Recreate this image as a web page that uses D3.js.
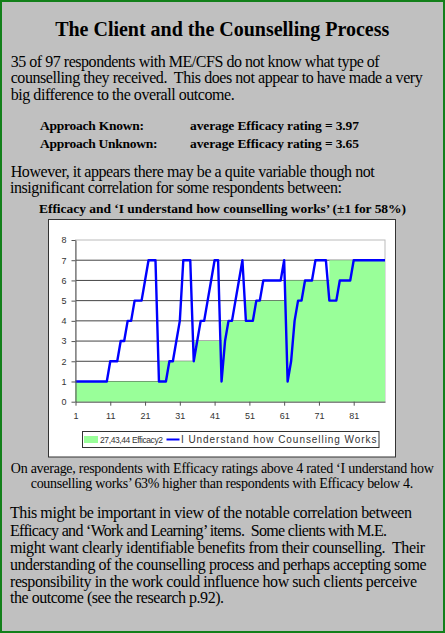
<!DOCTYPE html>
<html>
<head>
<meta charset="utf-8">
<script src="https://cdn.jsdelivr.net/npm/d3@7"></script>
<style>
  html, body { margin: 0; padding: 0; background: #c0c0c0; }
  svg { display: block; }
  .serif { font-family: "Liberation Serif", "Times New Roman", serif; fill: #000; white-space: pre; }
  .axis text { font-family: "Liberation Sans", Arial, sans-serif; font-size: 9px; fill: #333; }
  .axis path, .axis line { stroke: #555; }
</style>
</head>
<body>
<div id="vis"></div>
<script>

const FRAME_WIDTH = 445;
const FRAME_HEIGHT = 633;

// respondents sorted by efficacy, then by 'I understand' score
const efficacy = [
  1,1,1,1,1,1,1,1,1,1, 1,1,1,1,1,1,1,1,1,1, 1,1,1,1,
  2,2,2,2,2,2,2,2,2,2,
  3,3,3,3,3,3,3,3,
  4,4,4,4,4,4,4,
  5,5,5,5,5,5,5,5,5,5,5,
  6,6,6,6,6,6,6,6,6,6,6,6,6,
  7,7,7,7,7,7,7,7,7,7,7,7,7,7,7,7,7
];
const understand = [
  1,1,1,1,1,1,1,1,1,1, 2,2,2, 3,3, 4,4, 5,5,5, 6, 7,7,7,
  1,1,1, 2,2, 3, 4, 7,7,7,
  2, 3, 4,4, 5, 6, 7,7,
  1, 3, 4,4, 5, 6, 7,
  4,4,4, 5,5, 6,6,6,6,6,6,
  7, 1, 2, 4, 5,5, 6,6,6, 7,7,7,7,
  5,5,5, 6,6,6,6, 7,7,7,7,7,7,7,7,7,7
];
const xTicks = [1, 11, 21, 31, 41, 51, 61, 71, 81];
const yTicks = [0, 1, 2, 3, 4, 5, 6, 7, 8];
const seriesNames = ["27,43,44 Efficacy2", "I Understand how Counselling Works"];

const respondent = efficacy.map((d, i) => i + 1);

const svg = d3.select("#vis")
  .append("svg")
    .attr("width", FRAME_WIDTH)
    .attr("height", FRAME_HEIGHT);

// page frame
svg.append("rect")
  .attr("x", 1).attr("y", 1)
  .attr("width", FRAME_WIDTH - 2).attr("height", FRAME_HEIGHT - 2)
  .attr("fill", "#c0c0c0")
  .attr("stroke", "#13801a")
  .attr("stroke-width", 2);

// text lines: [text, x, baseline, size, weight, anchor, width]
const texts = [
  ["The Client and the Counselling Process", 222.2, 35.5, 20, "bold", "middle", 334],
  ["35 of 97 respondents with ME/CFS do not know what type of", 10.7, 66.5, 16, "normal", "start", 369],
  ["counselling they received.  This does not appear to have made a very", 10.7, 83.2, 16, "normal", "start", 412],
  ["big difference to the overall outcome.", 10.7, 100, 16, "normal", "start", 224],
  ["Approach Known:", 40, 130, 13.5, "bold", "start", 104],
  ["average Efficacy rating = 3.97", 190, 130, 13.5, "bold", "start", 169],
  ["Approach Unknown:", 40, 147.5, 13.5, "bold", "start", 117.5],
  ["average Efficacy rating = 3.65", 190, 147.5, 13.5, "bold", "start", 169],
  ["However, it appears there may be a quite variable though not", 10.7, 176.5, 16, "normal", "start", 364],
  ["insignificant correlation for some respondents between:", 10, 193.2, 16, "normal", "start", 332],
  ["Efficacy and \u2018I understand how counselling works\u2019 (\u00b11 for 58%)", 222.5, 212.5, 13.5, "bold", "middle", 367],
  ["On average, respondents with Efficacy ratings above 4 rated \u2018I understand how", 222.3, 472.5, 14, "normal", "middle", 423],
  ["counselling works\u2019 63% higher than respondents with Efficacy below 4.", 222, 487.6, 14, "normal", "middle", 382.5],
  ["This might be important in view of the notable correlation between", 10, 518.3, 16, "normal", "start", 402],
  ["Efficacy and \u2018Work and Learning\u2019 items.  Some clients with M.E.", 10, 535.5, 16, "normal", "start", 377],
  ["might want clearly identifiable benefits from their counselling.  Their", 10, 552.5, 16, "normal", "start", 415],
  ["understanding of the counselling process and perhaps accepting some", 10, 569.7, 16, "normal", "start", 416.5],
  ["responsibility in the work could influence how such clients perceive", 10, 586.7, 16, "normal", "start", 407],
  ["the outcome (see the research p.92).", 10, 603.3, 16, "normal", "start", 214]
];

svg.selectAll(".line-text")
  .data(texts)
  .enter()
  .append("text")
    .attr("class", "serif")
    .attr("x", d => d[1])
    .attr("y", d => d[2])
    .attr("font-size", d => d[3] + "px")
    .attr("font-weight", d => d[4])
    .attr("text-anchor", d => d[5])
    .attr("textLength", d => d[6])
    .attr("lengthAdjust", "spacing")
    .text(d => d[0]);

// chart box
svg.append("rect")
  .attr("x", 48.5).attr("y", 219.5)
  .attr("width", 347).attr("height", 237.5)
  .attr("fill", "#fff")
  .attr("stroke", "#333");

const X_SCALE = d3.scaleLinear()
  .domain([1, respondent.length])
  .range([75.5, 385]);

const Y_SCALE = d3.scaleLinear()
  .domain([0, 8])
  .range([401.7, 240]);

// gridlines
svg.append("g")
  .selectAll("line")
  .data(yTicks.filter(d => d > 0 && d < 8))
  .enter()
  .append("line")
    .attr("x1", X_SCALE(1)).attr("x2", X_SCALE(respondent.length))
    .attr("y1", d => Y_SCALE(d)).attr("y2", d => Y_SCALE(d))
    .attr("stroke", "#444")
    .attr("stroke-width", 1);

// plot border (light grey)
svg.append("rect")
  .attr("x", X_SCALE(1)).attr("y", Y_SCALE(8))
  .attr("width", X_SCALE(respondent.length) - X_SCALE(1))
  .attr("height", Y_SCALE(0) - Y_SCALE(8))
  .attr("fill", "none")
  .attr("stroke", "#bbb");

// efficacy area
const area = d3.area()
  .x((d, i) => X_SCALE(respondent[i]))
  .y0(Y_SCALE(0))
  .y1(d => Y_SCALE(d))
  .curve(d3.curveStepAfter);

svg.append("path")
  .datum(efficacy)
  .attr("d", area)
  .attr("fill", "#99ff99");

// understand line
const line = d3.line()
  .x((d, i) => X_SCALE(respondent[i]))
  .y(d => Y_SCALE(d));

svg.append("path")
  .datum(understand)
  .attr("d", line)
  .attr("fill", "none")
  .attr("stroke", "#0000ff")
  .attr("stroke-width", 2.4)
  .attr("stroke-linejoin", "round");

// axes
svg.append("g")
  .attr("class", "axis")
  .attr("transform", "translate(0," + Y_SCALE(0) + ")")
  .call(d3.axisBottom(X_SCALE).tickValues(xTicks).tickSize(4).tickPadding(7).tickSizeOuter(0));

svg.append("g")
  .attr("class", "axis")
  .attr("transform", "translate(" + X_SCALE(1) + ",0)")
  .call(d3.axisLeft(Y_SCALE).tickValues(yTicks).tickSize(4).tickPadding(5).tickSizeOuter(0));

// legend
const legend = svg.append("g");
legend.append("rect")
  .attr("x", 82.5).attr("y", 431.5)
  .attr("width", 296.5).attr("height", 16)
  .attr("fill", "#fff")
  .attr("stroke", "#333");

legend.append("rect")
  .attr("x", 84).attr("y", 436)
  .attr("width", 14).attr("height", 7)
  .attr("fill", "#99ff99");

legend.append("line")
  .attr("x1", 166.5).attr("x2", 179.5)
  .attr("y1", 439.5).attr("y2", 439.5)
  .attr("stroke", "#0000ff")
  .attr("stroke-width", 2);

legend.selectAll("text")
  .data(seriesNames)
  .enter()
  .append("text")
    .attr("x", (d, i) => i === 0 ? 100 : 181)
    .attr("y", 443)
    .attr("font-family", "'Liberation Sans', Arial, sans-serif")
    .attr("font-size", (d, i) => i === 0 ? "8.5px" : "10px")
    .attr("fill", "#333")
    .attr("textLength", (d, i) => i === 0 ? 63 : 195.5)
    .attr("lengthAdjust", "spacing")
    .text(d => d);

</script>
</body>
</html>
